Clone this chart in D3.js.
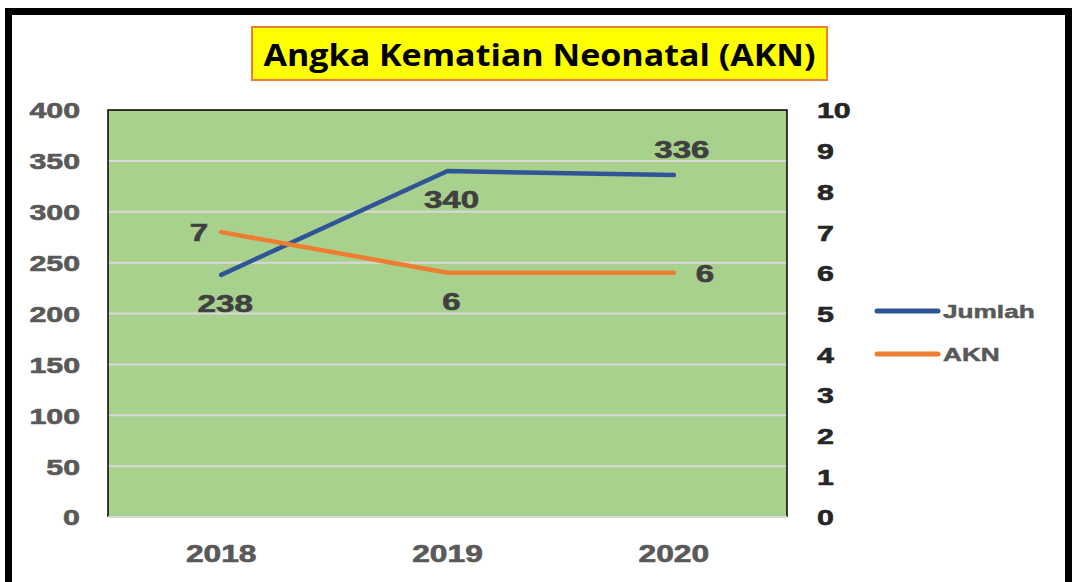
<!DOCTYPE html>
<html>
<head>
<meta charset="utf-8">
<script src="https://cdn.jsdelivr.net/npm/d3@7"></script>
<style>
  body { margin: 0; background: #fff; }
  svg text { font-family: "Liberation Sans", Arial, sans-serif; font-weight: bold; }
</style>
</head>
<body>
<svg id="chart" width="1075" height="582"></svg>
<script>
// data
var years = ["2018", "2019", "2020"];
var jumlah = [238, 340, 336];
var akn = [7, 6, 6];
var leftTicks = [0, 50, 100, 150, 200, 250, 300, 350, 400];
var rightTicks = [0, 1, 2, 3, 4, 5, 6, 7, 8, 9, 10];
var seriesNames = ["Jumlah", "AKN"];
var titleText = "Angka Kematian Neonatal (AKN)";

// layout
var plot = { left: 108, right: 787, top: 110, bottom: 517 };
var stretch = 1.38; // the picture is stretched wide
var colors = { Jumlah: "#2F5597", AKN: "#ED7D31" };
var labelPos = { Jumlah: ["below", "below", "above"], AKN: ["left", "below", "right"] };

var svg = d3.select("#chart");

// outer frame
svg.append("rect").attr("x", 8.5).attr("y", 11.5).attr("width", 1060).attr("height", 620)
  .attr("fill", "none").attr("stroke", "#000").attr("stroke-width", 7);

// title box
svg.append("rect").attr("x", 252).attr("y", 27).attr("width", 575).attr("height", 53)
  .attr("fill", "#FFFF00").attr("stroke", "#ED7D31").attr("stroke-width", 2);
svg.append("text").attr("x", 539.5).attr("y", 66).attr("text-anchor", "middle")
  .attr("textLength", 552).attr("lengthAdjust", "spacingAndGlyphs")
  .style("font-family", "'Open Sans', 'Noto Sans', sans-serif").style("font-size", "30px")
  .attr("fill", "#000").text(titleText);

// scales
var x = d3.scalePoint().domain(years).range([plot.left, plot.right]).padding(0.5);
var yL = d3.scaleLinear().domain([0, 400]).range([plot.bottom, plot.top]);
var yR = d3.scaleLinear().domain([0, 10]).range([plot.bottom, plot.top]);

// plot background
svg.append("rect").attr("x", plot.left).attr("y", plot.top)
  .attr("width", plot.right - plot.left).attr("height", plot.bottom - plot.top).attr("fill", "#A9D18E");

// gridlines
svg.append("g").selectAll("line").data(leftTicks.filter(d => d < 400)).join("line")
  .attr("x1", plot.left).attr("x2", plot.right)
  .attr("y1", d => yL(d)).attr("y2", d => yL(d))
  .attr("stroke", "#D9D9D9").attr("stroke-width", 2);

// plot border (top, left, right)
svg.append("path")
  .attr("d", "M" + plot.left + "," + plot.bottom + "V" + plot.top + "H" + plot.right + "V" + plot.bottom)
  .attr("fill", "none").attr("stroke", "#000").attr("stroke-width", 1.5);

// axes
function stretchText(sel, anchor, dx) {
  sel.selectAll("text").attr("text-anchor", anchor)
    .attr("x", dx / stretch).attr("transform", "scale(" + stretch + ",1)");
}
var gL = svg.append("g").attr("transform", "translate(" + plot.left + ",0)")
  .call(d3.axisLeft(yL).tickValues(leftTicks).tickSize(0));
gL.select(".domain").remove();
gL.selectAll("text").style("font-size", "22px").attr("fill", "#595959").attr("dy", "0.36em")
  .attr("stroke", "#595959").attr("stroke-width", 0.6);
stretchText(gL, "end", -28);

var gR = svg.append("g").attr("transform", "translate(" + plot.right + ",0)")
  .call(d3.axisRight(yR).tickValues(rightTicks).tickSize(0));
gR.select(".domain").remove();
gR.selectAll("text").style("font-size", "22px").attr("fill", "#262626").attr("dy", "0.36em")
  .attr("stroke", "#262626").attr("stroke-width", 0.6);
stretchText(gR, "start", 30);

var gB = svg.append("g").attr("transform", "translate(0," + plot.bottom + ")")
  .call(d3.axisBottom(x).tickSize(0));
gB.select(".domain").remove();
gB.selectAll("text").style("font-size", "23px").attr("fill", "#595959").attr("y", 45).attr("dy", 0)
  .attr("stroke", "#595959").attr("stroke-width", 0.6);
gB.selectAll(".tick text").attr("transform", "scale(" + stretch + ",1)").attr("x", 0).attr("text-anchor", "middle");
gB.selectAll(".tick").attr("transform", d => "translate(" + x(d) + ",0)");

// bottom axis line
svg.append("line").attr("x1", plot.left).attr("x2", plot.right)
  .attr("y1", plot.bottom).attr("y2", plot.bottom).attr("stroke", "#D9D9D9").attr("stroke-width", 2);

// lines
var series = [
  { name: "Jumlah", values: jumlah, y: yL },
  { name: "AKN", values: akn, y: yR }
];
var line = d3.line();
svg.append("g").selectAll("path").data(series).join("path")
  .attr("d", s => line(s.values.map((v, i) => [x(years[i]), s.y(v)])))
  .attr("fill", "none").attr("stroke", s => colors[s.name]).attr("stroke-width", 4.5)
  .attr("stroke-linecap", "round").attr("stroke-linejoin", "round");

// data labels
var offs = { below: [4, 37, "middle"], above: [8, -17, "middle"], left: [-13, 9, "end"], right: [22, 9, "start"] };
series.forEach(s => {
  svg.append("g").selectAll("text").data(s.values).join("text")
    .attr("transform", (v, i) => {
      var o = offs[labelPos[s.name][i]];
      return "translate(" + (x(years[i]) + o[0]) + "," + (s.y(v) + o[1]) + ") scale(" + stretch + ",1)";
    })
    .attr("text-anchor", (v, i) => offs[labelPos[s.name][i]][2])
    .style("font-size", "24px").attr("fill", "#404040")
    .attr("stroke", "#404040").attr("stroke-width", 0.6).text(v => v);
});

// legend
var leg = svg.append("g").selectAll("g").data(seriesNames).join("g")
  .attr("transform", (d, i) => "translate(877," + (311 + i * 43) + ")");
leg.append("line").attr("x1", 0).attr("x2", 61).attr("y1", 0).attr("y2", 0)
  .attr("stroke", d => colors[d]).attr("stroke-width", 5).attr("stroke-linecap", "round");
leg.append("text").attr("transform", "translate(66,0) scale(" + stretch + ",1)")
  .attr("dy", "0.36em").style("font-size", "19px").attr("fill", "#595959")
  .attr("stroke", "#595959").attr("stroke-width", 0.5).text(d => d);
</script>
</body>
</html>
